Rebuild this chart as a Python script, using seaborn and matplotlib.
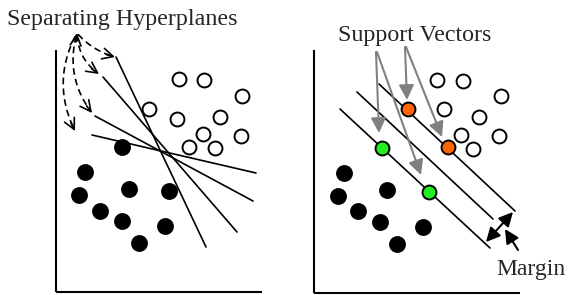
import numpy as np
import pandas as pd
import matplotlib
matplotlib.use("Agg")
import matplotlib.pyplot as plt
import seaborn as sns

# --- data (pixel-like coordinates of the sketch, y grows downward) ---
left_hollow_x = [179, 204, 242, 149, 177, 220, 203, 241, 189, 215]
left_hollow_y = [79, 80, 96, 109, 119, 117, 134, 136, 147, 148]
left_filled_x = [122, 85, 79, 129, 169, 100, 122, 165, 139]
left_filled_y = [147, 172, 195, 189, 191, 211, 221, 226, 243]

right_hollow_x = [437, 463, 501, 444, 479, 461, 499, 473]
right_hollow_y = [80, 81, 96, 109, 117, 135, 136, 149]
right_filled_x = [344, 338, 387, 358, 380, 423, 397]
right_filled_y = [173, 196, 190, 211, 222, 227, 244]
orange_x = [408, 448]
orange_y = [109, 147]
green_x = [382, 429]
green_y = [148, 192]

# separating hyperplanes (x0, y0, x1, y1)
hyperplanes = [(116, 57, 206, 247), (103, 77, 237, 232),
               (95, 116, 253, 201), (92, 135, 256, 173)]
# margin lines
margin_lines = [(379, 84, 515, 211), (357, 92, 493, 219), (340, 109, 490, 248)]

# dashed curved arrows: start, end, bend
dash_start = (77, 33)
dash_ends = [(115, 57), (99, 74), (92, 113), (75, 131)]
dash_bend = [0.15, 0.25, 0.25, 0.26]

# gray support-vector arrows (tail, head)
sv_arrows = [((376, 52), (379, 133)), ((377, 52), (421, 175)),
             ((405, 47), (407, 100)), ((406, 47), (442, 137))]

sns.set_style("white")
plt.rcParams['font.family'] = ['Liberation Serif', 'DejaVu Serif']

fig = plt.figure(figsize=(5.68, 2.95), dpi=100)
ax = fig.add_axes([0, 0, 1, 1])
ax.set_xlim(0, 568)
ax.set_ylim(295, 0)
ax.axis('off')

# axes of the two sketches
for x0, x1, top, base in [(56, 262, 50, 292), (314, 520, 50, 293)]:
    ax.plot([x0, x0], [top, base], color='black', lw=1.5, solid_capstyle='butt')
    ax.plot([x0, x1], [base, base], color='black', lw=1.5, solid_capstyle='butt')

# lines
for x0, y0, x1, y1 in hyperplanes + margin_lines:
    ax.plot([x0, x1], [y0, y1], color='black', lw=1.2)

# points
def pts(x, y, face, s):
    sns.scatterplot(x=x, y=y, color=face, edgecolor='black', linewidth=1.4,
                    s=s, ax=ax, zorder=3, legend=False)

pts(left_hollow_x, left_hollow_y, 'white', 100)
pts(left_filled_x, left_filled_y, 'black', 115)
pts(right_hollow_x, right_hollow_y, 'white', 100)
pts(right_filled_x, right_filled_y, 'black', 115)
pts(orange_x, orange_y, '#ff6600', 100)
pts(green_x, green_y, '#22ee22', 100)

# dashed curved arrows
head = dict(arrowstyle='->,head_length=0.55,head_width=0.28', color='black',
            lw=1.2, mutation_scale=14, shrinkA=0, shrinkB=0)
p0 = np.array(dash_start, dtype=float)
t = np.linspace(0, 1, 60)
for end, f in zip(dash_ends, dash_bend):
    p2 = np.array(end, dtype=float)
    d = p2 - p0
    perp = np.array([-d[1], d[0]])  # bow out to the left
    c = (p0 + p2) / 2 + f * perp
    curve = ((1 - t) ** 2)[:, None] * p0 + (2 * (1 - t) * t)[:, None] * c + (t ** 2)[:, None] * p2
    ax.plot(curve[2:-3, 0], curve[2:-3, 1], color='black', lw=1.2, ls=(0, (4, 2.5)))
    tang = p2 - c
    tang = tang / np.linalg.norm(tang)
    ax.annotate('', xy=p2, xytext=p2 - 9 * tang, arrowprops=head)
# small head at the common start
ax.annotate('', xy=p0, xytext=(p0[0] - 1, p0[1] + 9), arrowprops=head)

# gray arrows to support vectors
for tail, tip in sv_arrows:
    ax.annotate('', xy=tip, xytext=tail,
                arrowprops=dict(arrowstyle='-|>,head_length=0.6,head_width=0.3',
                                color='#808080', lw=1.5, mutation_scale=15,
                                shrinkA=0, shrinkB=0))

# margin arrows
ax.annotate('', xy=(486, 242), xytext=(513, 212),
            arrowprops=dict(arrowstyle='<|-|>,head_length=0.6,head_width=0.3',
                            color='black', lw=1.5, mutation_scale=14,
                            shrinkA=0, shrinkB=0))
ax.annotate('', xy=(505, 229), xytext=(518, 250),
            arrowprops=dict(arrowstyle='-|>,head_length=0.6,head_width=0.3',
                            color='black', lw=1.5, mutation_scale=14,
                            shrinkA=0, shrinkB=0))

ax.text(7, 25, 'Separating Hyperplanes', fontsize=17.3, va='baseline', ha='left')
ax.text(338, 41, 'Support Vectors', fontsize=17.3, va='baseline', ha='left')
ax.text(496, 275, 'Margin', fontsize=17, va='baseline', ha='left')

fig.savefig('out.png', dpi=100)
